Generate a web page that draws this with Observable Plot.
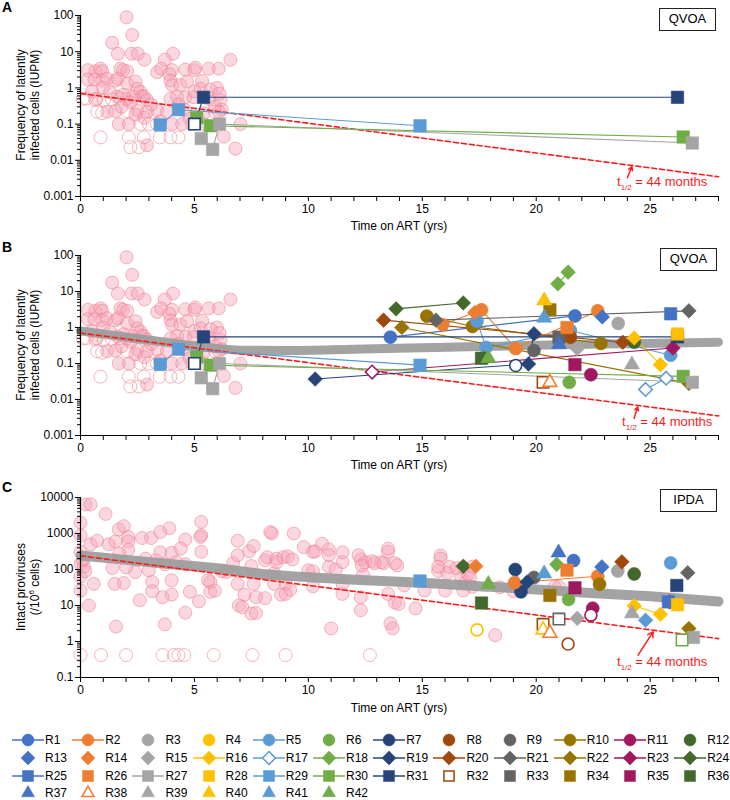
<!DOCTYPE html>
<html><head><meta charset="utf-8">
<script src="https://cdn.jsdelivr.net/npm/d3@7"></script>
<script src="https://cdn.jsdelivr.net/npm/@observablehq/plot@0.6"></script>
<style>
body{margin:0;background:#fff;font-family:"Liberation Sans",Arial,sans-serif;color:#000;}
#wrap{position:relative;width:730px;height:800px;overflow:hidden;}
#wrap svg{position:absolute;left:0;}
.ov{position:absolute;white-space:nowrap;}
.letter{font-weight:bold;font-size:14px;line-height:16px;}
.box{border:1.5px solid #222;font-size:13px;text-align:center;box-sizing:border-box;background:#fff;}
.ylab{font-size:12px;line-height:14px;text-align:center;transform:translate(-50%,-50%) rotate(-90deg);}
.ylab sup{font-size:8px;line-height:0;}
.xlab{font-size:12px;line-height:14px;transform:translateX(-50%);}
.half{color:#ff1a1a;font-size:13px;line-height:14px;}
.half sub{font-size:8px;line-height:0;}
.lg{font-size:12px;line-height:16px;}
</style></head>
<body><div id="wrap"></div>
<script>
// ---------------- categories & styles ----------------
const patientIds = ["R1","R2","R3","R4","R5","R6","R7","R8","R9","R10","R11","R12",
  "R13","R14","R15","R16","R17","R18","R19","R20","R21","R22","R23","R24",
  "R25","R26","R27","R28","R29","R30","R31","R32","R33","R34","R35","R36",
  "R37","R38","R39","R40","R41","R42"];
const columnColors = ["#4472C4","#ED7D31","#A5A5A5","#FFC000","#5B9BD5","#70AD47","#264478","#9E480E","#636363","#997300","#A0185E","#43682B"];
const rowShapes = ["circle","diamond2","square","triangle"];
const withLine = ["R1","R2","R5","R7","R10","R11","R16","R17","R18","R19","R20","R21","R22","R23","R24","R25","R27","R29","R30","R31"];
const legendHollow = ["R17","R32","R38"];
const xTickLabels = [0,5,10,15,20,25];
const yTicksQVOA = [0.001,0.01,0.1,1,10,100];
const yTicksIPDA = [0.1,1,10,100,1000,10000];

// ---------------- background (historical) data ----------------
const qvoaFilled = [[2.02,89],[2.27,29],[1.39,17.7],[1.64,8.8],[2.24,8.8],[2.51,8.8],[2.81,6.0],[4.06,8.8],[3.7,6.0],[6.58,6.0],
 [3.36,2.7],[3.54,3.4],[4.02,3.1],[4.6,3.2],[5.0,3.1],[5.04,3.6],[5.63,3.4],[6.07,3.4],[3.9,2.4],
 [0.32,3.1],[0.66,2.9],[0.88,3.4],[0.95,2.9],[1.75,3.4],[1.87,3.1],[2.05,2.9],
 [0.32,1.7],[0.61,1.7],[0.95,1.6],[1.17,1.8],[1.54,1.6],[1.64,1.8],[2.05,1.3],[2.41,1.5],[2.49,0.95],[2.63,0.78],[2.7,0.6],
 [3.95,1.6],[4.02,1.2],[4.39,1.2],[4.68,1.5],[5.34,1.55],[5.99,1.0],[5.26,0.95],
 [2.78,0.57],[2.92,0.46],[3.95,0.5],[4.24,0.57],[4.6,0.55],[4.97,0.55],[5.63,0.5],[6.14,0.46],[5.9,0.3],[6.2,0.25],
 [2.49,0.24],[2.92,0.22],[3.36,0.24],[3.8,0.22],[4.6,0.24],[5.41,0.2],[6.07,0.22],[1.17,0.22],[1.54,0.23],
 [1.68,0.1],[2.12,0.1],[2.41,0.18],[4.02,0.1],[4.46,0.1],[5.41,0.1],[7.02,0.1],[6.29,0.045],[6.8,0.021],[2.92,0.026],
 [2.02,0.5],[2.31,0.57],[1.61,0.57],[0.5,0.8],[1.0,1.0],[1.3,0.75],[1.9,0.65],[2.2,0.4],[0.7,0.5],[1.8,0.3],
 [3.1,0.35],[4.3,0.35],[5.0,0.8],[5.7,0.9],[6.1,0.7],[4.8,0.14],[3.5,0.12],[2.8,0.15]];
const qvoaHollow = [[0.26,0.51],[0.66,0.46],[1.02,0.46],[1.39,0.48],[1.75,0.51],[0.73,0.22],[0.95,0.2],[2.05,0.22],
 [3.0,0.1],[3.36,0.1],[0.88,0.043],[2.12,0.043],[2.78,0.043],[3.48,0.043],[3.95,0.043],[2.19,0.023],[2.56,0.023],
 [4.9,0.1],[2.63,0.1],[0.1,0.5],[4.3,0.043],[5.9,0.22]];
const ipdaFilled = [[0.22,6400],[0.44,6400],[1.1,3500],[0,2000],[1.68,1300],[1.9,1600],[2.1,800],[2.1,600],[2.7,750],[3.1,750],
 [3.5,1100],[3.9,1400],[4.6,680],[5.3,2100],[5.3,900],[5.3,310],[0.44,500],[0.73,630],[1.24,500],[1.53,600],[2.1,350],
 [1.7,280],[3.5,300],[4.0,290],[4.4,380],[2.85,200],[3.3,180],[2.4,85],[3.0,95],[3.7,140],[4.2,160],[4.6,140],[1.4,110],
 [2.0,115],[0.58,40],[1.5,40],[1.9,42],[3.15,45],[2.6,14],[3.6,17],[4.0,20],[3.15,25],[4.0,50],[4.8,24],[5.2,13],[5.7,24],
 [5.7,45],[4.6,6.3],[3.7,3],[1.56,2.6],[0.37,10],[0,26],[0,63],[0,145],[0,310],[0,890],[0.1,180],[0.15,120],[0.2,90],
 [6.9,630],[6.7,150],[7.4,320],[7.6,450],[6.9,250],[7.5,125],[6.9,40],[7.6,40],[7.2,20],[7.7,17],[6.95,10],[7.1,9],
 [7.5,6],[7.7,6.2],[8.1,180],[8.2,220],[8.4,1000],[8.1,16],[8.5,80],[8.6,160],[6.4,85],[6.2,90],[5.6,50],[5.9,26],
 [5.26,800],[8.33,1100],[9.36,1000],[9.8,420],[10.2,310],[10.3,320],[10.6,520],[10.9,360],[8.6,200],[8.9,220],[9.1,230],
 [9.3,190],[10.0,95],[10.2,90],[10.9,120],[11.2,100],[11.5,160],[8.5,40],[9.0,40],[9.2,27],[8.8,20],[9.0,21],[10.2,34],
 [11.5,21],[12.3,190],[12.5,160],[12.8,170],[13.2,160],[13.3,150],[13.5,310],[13.8,150],[12.3,17],[12.3,7.4],[13.5,21],
 [13.8,12],[12.4,70],[11.0,2.3],[13.6,3.2],[13.7,2.3],[14.7,8.3],[14.2,36],[15.1,26],[15.8,245],[15.7,91],[16.2,117],
 [16.1,80],[16.7,60],[16.9,45],[17.1,60],[17.2,120],[17.0,75],[16.0,26],[16.8,26],[18.2,1.5],[18.4,32],[19.0,25],
 [10.9,250],[11.5,300],[12.2,250],[11.5,40],[12.35,130],[12.9,150],[13.9,130],[13.5,380],[15.8,200],[15.7,120],
 [16.5,110],[16.8,115],[13.96,11],[17.2,33],[19.3,32],[20.8,33],[21.0,33]];
const ipdaHollow = [[0,0.42],[0.9,0.42],[2.0,0.42],[3.6,0.42],[4.1,0.42],[4.3,0.42],[4.55,0.42],[5.85,0.42],[7.55,0.42],[9.0,0.42],[12.7,0.42]];

// ---------------- model / trend lines ----------------
const decayX = [0, 28];
const decayQvoaY = [0.7, 0.0035];
const decayIpdaY = [240, 1.2];
const trendQvoaX = [0,1,2,3,4,5,6,7,9,12,15,18,21,24,28];
const trendQvoaY = [0.80,0.66,0.54,0.45,0.37,0.31,0.26,0.235,0.23,0.25,0.275,0.30,0.33,0.355,0.39];
const trendIpdaX = [0,2,4,6,8,10,12.5,15,18,20,22,25,28];
const trendIpdaY = [245,185,140,108,75,61,50,43,33,28,23,18,13];
const arrowA = [24.0,0.0033,24.2,0.0066];
const arrowB = [24.3,0.0030,24.45,0.0062];
const arrowC = [24.47,0.42,25.13,1.85];

// ---------------- participant measurements [id, years, value, hollow] ----------------
const qvoaA = [["R29",3.5,0.095,0],["R29",4.3,0.25,0],["R29",14.9,0.09,0],
 ["R31",5.0,0.1,1],["R31",5.4,0.55,0],["R31",26.2,0.55,0],
 ["R30",5.1,0.15,0],["R30",5.7,0.09,0],["R30",26.45,0.044,0],
 ["R27",5.3,0.04,0],["R27",5.8,0.02,0],["R27",6.1,0.1,0],["R27",26.85,0.03,0]];
const qvoaBExtra = [["R24",13.85,3.3,0],["R24",16.8,4.8,0],["R20",13.3,1.6,0],["R20",23.8,0.39,0],
 ["R22",14.1,1.0,0],["R22",26.7,0.028,0],["R10",15.2,2.07,0],["R10",17.2,1.07,0],["R10",22.84,0.36,0],
 ["R21",15.6,1.6,0],["R21",26.7,2.9,0],["R2",15.9,1.2,0],["R2",17.6,3.1,0],["R2",19.1,0.26,0],["R2",22.7,2.9,0],
 ["R14",17.3,2.6,0],["R1",13.6,0.54,0],["R1",21.7,2.1,0],["R13",22.9,1.96,0],
 ["R5",17.4,1.5,0],["R5",17.8,0.28,0],["R5",21.5,0.83,0],["R5",25.9,0.17,0],
 ["R41",20.35,1.86,0],["R37",21.0,0.34,0],["R40",20.35,5.6,0],["R34",20.6,3.1,0],
 ["R18",20.95,16.3,0],["R18",21.4,34.5,0],["R19",10.3,0.037,0],["R19",19.66,0.097,0],["R19",19.9,0.67,0],
 ["R7",19.1,0.088,1],["R9",19.9,0.23,0],["R33",21.0,0.54,0],["R8",21.5,0.54,0],["R12",24.3,0.39,0],
 ["R16",24.3,0.51,0],["R16",25.45,0.093,0],["R28",26.2,0.66,0],["R3",23.6,1.3,0],["R15",21.8,0.26,0],
 ["R35",21.7,0.093,0],["R11",22.4,0.049,0],["R23",12.8,0.058,1],["R23",26.0,0.27,0],["R39",24.2,0.093,0],
 ["R6",21.45,0.03,0],["R32",20.3,0.03,1],["R38",20.6,0.03,1],["R17",24.8,0.019,1],["R17",25.7,0.039,1],
 ["R36",17.6,0.14,0],["R42",17.9,0.14,0],["R26",21.35,1.0,0],["R25",25.9,2.4,0]];
const ipdaC = [["R29",14.9,48,0],["R24",16.8,123,0],["R14",17.35,123,0],["R42",17.9,39,0],["R36",17.6,11.7,0],
 ["R4",17.4,2.1,1],["R7",19.08,100,0],["R7",19.33,24,0],["R19",19.6,45,0],["R9",19.9,60,0],
 ["R2",19.05,43,0],["R2",22.7,65,0],["R41",20.35,77,0],["R37",20.98,294,0],["R18",20.9,139,0],["R1",21.64,177,0],
 ["R26",21.35,96,0],["R35",21.7,31,0],["R34",20.6,19,0],["R6",21.42,14.7,0],["R11",22.4,5.4,1],["R11",22.48,8.4,0],
 ["R13",22.88,118,0],["R10",22.78,39,0],["R20",23.76,163,0],["R3",23.58,91,0],["R12",24.3,75,0],["R5",25.9,152,0],
 ["R21",26.65,81,0],["R31",26.17,36,0],["R25",25.8,12.6,0],["R23",25.85,12.6,0],["R28",26.2,10.5,0],
 ["R16",24.3,9.8,0],["R16",25.45,5.7,0],["R39",24.2,6,0],["R17",24.8,3.9,0],["R15",21.8,4.4,0],
 ["R33",21.0,4.2,1],["R32",20.3,3.0,1],["R40",20.3,2.1,1],["R38",20.6,1.7,1],["R8",21.4,0.85,1],
 ["R22",26.7,2.3,0],["R27",26.9,1.3,0],["R30",26.4,1.1,1]];

// ---------------- helpers ----------------
const idx = id => patientIds.indexOf(id);
const colorOf = id => columnColors[idx(id) % 12];
const shapeOf = id => rowShapes[Math.floor(idx(id) / 12)];
const shapeR = {circle: 6.5, diamond2: 6.6, square: 7.0, triangle: 5.6};
const toRows = arr => arr.map(([id, x, y, h]) => ({id, x, y, h}));
const pairs = (xs, ys) => xs.map((x, i) => ({x, y: ys[i]}));
const FONT = '"Liberation Sans", Arial, sans-serif';
const wrap = document.getElementById("wrap");

function makePanel(cfg) {
  const lo = cfg.yTicks[0], hi = cfg.yTicks[cfg.yTicks.length - 1];
  const minor = [];
  cfg.yTicks.slice(0, -1).forEach(t => { for (let m = 2; m <= 9; m++) minor.push(t * m); });
  const pts = toRows(cfg.pts);
  const lineRows = pts.filter(d => withLine.includes(d.id))
    .sort((a, b) => idx(a.id) - idx(b.id) || a.x - b.x);
  const marks = [
    Plot.dot(cfg.filled, {x: d => d[0], y: d => d[1], r: 6.5, fill: "#f6a3b8", fillOpacity: 0.42, stroke: "#ec7a86", strokeOpacity: 0.6, strokeWidth: 0.9}),
    Plot.dot(cfg.hollow, {x: d => d[0], y: d => d[1], r: 6.5, fill: "none", stroke: "#f08f97", strokeOpacity: 0.75, strokeWidth: 0.9})
  ];
  if (cfg.trend) marks.push(Plot.line(cfg.trend, {x: "x", y: "y", stroke: "#9b9b9b", strokeWidth: cfg.trendW, strokeOpacity: 0.92, strokeLinecap: "round", curve: "monotone-x"}));
  marks.push(Plot.line(cfg.decay, {x: "x", y: "y", stroke: "#ff1a1a", strokeWidth: 1.6, strokeDasharray: "5,3"}));
  marks.push(Plot.line(lineRows, {x: "x", y: "y", z: "id", stroke: d => colorOf(d.id), strokeWidth: 1.1}));
  for (const s of rowShapes) {
    const fillPts = pts.filter(d => shapeOf(d.id) === s && !d.h);
    const holPts = pts.filter(d => shapeOf(d.id) === s && d.h);
    marks.push(Plot.dot(fillPts, {x: "x", y: "y", r: shapeR[s], symbol: s, fill: d => colorOf(d.id), stroke: d => colorOf(d.id), strokeWidth: 0.6}));
    marks.push(Plot.dot(holPts, {x: "x", y: "y", r: shapeR[s] * 0.92, symbol: s, fill: "white", stroke: d => colorOf(d.id), strokeWidth: 1.6}));
  }
  const a = cfg.arrow;
  marks.push(Plot.arrow([{x1: a[0], y1: a[1], x2: a[2], y2: a[3]}], {x1: "x1", y1: "y1", x2: "x2", y2: "y2", stroke: "#ff1a1a", strokeWidth: 1.5, headLength: 6}));
  marks.push(Plot.ruleX([0], {stroke: "#000", strokeWidth: 1.2}));
  marks.push(Plot.ruleY([lo], {stroke: "#000", strokeWidth: 1.2}));
  marks.push(Plot.axisX({ticks: d3.range(0, 29), tickSize: 5, tickPadding: 3, tickFormat: d => xTickLabels.includes(d) ? String(d) : "", label: null}));
  marks.push(Plot.axisY({ticks: minor, tickSize: 3, tickFormat: () => "", label: null}));
  marks.push(Plot.axisY({ticks: cfg.yTicks, tickSize: 5, tickPadding: 2, tickFormat: d => String(d), label: null}));
  const svg = Plot.plot({
    width: 730, height: cfg.height,
    marginLeft: 80, marginRight: 12, marginTop: cfg.marginTop, marginBottom: 39,
    x: {domain: [0, 28]},
    y: {type: "log", domain: [lo, hi]},
    color: {type: "identity"},
    style: {fontFamily: FONT, fontSize: "12px", color: "#000", background: "transparent", overflow: "visible"},
    marks
  });
  svg.style.top = cfg.top + "px";
  wrap.appendChild(svg);
}

makePanel({top: 0, height: 235, marginTop: 15, yTicks: yTicksQVOA, filled: qvoaFilled, hollow: qvoaHollow,
  pts: qvoaA, decay: pairs(decayX, decayQvoaY), trend: null, arrow: arrowA});
makePanel({top: 235, height: 239, marginTop: 20, yTicks: yTicksQVOA, filled: qvoaFilled, hollow: qvoaHollow,
  pts: qvoaA.concat(qvoaBExtra), decay: pairs(decayX, decayQvoaY), trend: pairs(trendQvoaX, trendQvoaY), trendW: 9, arrow: arrowB});
makePanel({top: 474, height: 242, marginTop: 23, yTicks: yTicksIPDA, filled: ipdaFilled, hollow: ipdaHollow,
  pts: ipdaC, decay: pairs(decayX, decayIpdaY), trend: pairs(trendIpdaX, trendIpdaY), trendW: 10, arrow: arrowC});

// ---------------- text overlays ----------------
function ov(html, cls, left, top, extra) {
  const d = document.createElement("div");
  d.className = "ov " + cls;
  d.innerHTML = html;
  d.style.left = left + "px"; d.style.top = top + "px";
  if (extra) Object.assign(d.style, extra);
  wrap.appendChild(d);
  return d;
}
ov("A", "letter", 2, -1);
ov("B", "letter", 2, 239);
ov("C", "letter", 2, 479);
ov("QVOA", "box", 659, 8, {width: "57px", height: "23px", lineHeight: "20px"});
ov("QVOA", "box", 660, 248, {width: "57px", height: "23px", lineHeight: "20px"});
ov("IPDA", "box", 660, 489, {width: "57px", height: "23px", lineHeight: "20px"});
ov("Frequency of latently<br>infected cells (IUPM)", "ylab", 28, 105);
ov("Frequency of latently<br>infected cells (IUPM)", "ylab", 28, 345);
ov("Intact proviruses<br>(/10<sup>6</sup> cells)", "ylab", 28, 587);
ov("Time on ART (yrs)", "xlab", 399, 219);
ov("Time on ART (yrs)", "xlab", 399, 458);
ov("Time on ART (yrs)", "xlab", 399, 701);
ov("t<sub>1/2</sub> = 44 months", "half", 617, 175);
ov("t<sub>1/2</sub> = 44 months", "half", 622, 415);
ov("t<sub>1/2</sub> = 44 months", "half", 617, 655);

// ---------------- legend ----------------
const legendRowY = [740, 758, 776, 793];
const legendSize = {circle: 113, diamond2: 125, square: 121, triangle: 73};
const symType = {circle: d3.symbolCircle, diamond2: d3.symbolDiamond2, square: d3.symbolSquare, triangle: d3.symbolTriangle};
patientIds.forEach((id, i) => {
  const col = i % 12, row = Math.floor(i / 12);
  const cx = 28 + col * 60.2, cy = legendRowY[row];
  const c = colorOf(id), s = shapeOf(id), hol = legendHollow.includes(id);
  const ns = "http://www.w3.org/2000/svg";
  const svg = document.createElementNS(ns, "svg");
  svg.setAttribute("width", 36); svg.setAttribute("height", 18);
  svg.style.position = "absolute"; svg.style.left = (cx - 18) + "px"; svg.style.top = (cy - 9) + "px";
  if (withLine.includes(id)) {
    const ln = document.createElementNS(ns, "line");
    ln.setAttribute("x1", 2); ln.setAttribute("x2", 34); ln.setAttribute("y1", 9); ln.setAttribute("y2", 9);
    ln.setAttribute("stroke", c); ln.setAttribute("stroke-width", 1.5);
    svg.appendChild(ln);
  }
  const p = document.createElementNS(ns, "path");
  p.setAttribute("d", d3.symbol(symType[s], hol ? legendSize[s] * 0.85 : legendSize[s])());
  p.setAttribute("transform", "translate(18,9)");
  p.setAttribute("fill", hol ? "white" : c);
  p.setAttribute("stroke", c);
  p.setAttribute("stroke-width", hol ? 1.6 : 0.5);
  svg.appendChild(p);
  wrap.appendChild(svg);
  ov(id, "lg", cx + 17, cy - 8);
});
</script>
</body></html>
